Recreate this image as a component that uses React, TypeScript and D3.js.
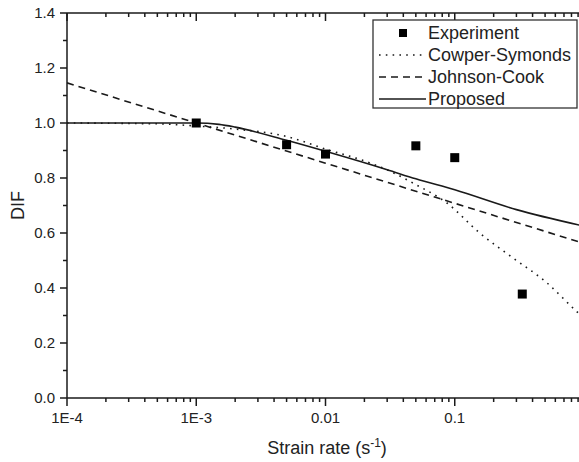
import React from "react";
import * as d3 from "d3";

const expX = [0.001, 0.005, 0.01, 0.05, 0.1, 0.333];
const expY = [1.0, 0.921, 0.887, 0.917, 0.874, 0.378];

const csX = [0.0001, 0.0005, 0.001, 0.002, 0.005, 0.01, 0.02, 0.0315, 0.05, 0.0865, 0.156, 0.281, 0.513, 0.875, 1];
const csY = [1.0, 0.997, 0.989, 0.978, 0.951, 0.905, 0.862, 0.825, 0.776, 0.71, 0.6, 0.51, 0.42, 0.315, 0.29];

const jcX = [0.0001, 0.001, 0.01, 0.1, 1];
const jcY = [1.146, 1.0, 0.854, 0.708, 0.562];

const prX = [0.0001, 0.0005, 0.001, 0.0015, 0.002, 0.005, 0.01, 0.03, 0.05, 0.1, 0.3, 1];
const prY = [1.0, 1.0, 1.0, 0.995, 0.985, 0.937, 0.897, 0.83, 0.797, 0.757, 0.685, 0.625];

const yTicks = [0, 0.2, 0.4, 0.6, 0.8, 1.0, 1.2, 1.4];
const xTickVals = [0.0001, 0.001, 0.01, 0.1];
const xTickLabels = ["1E-4", "1E-3", "0.01", "0.1"];
const legendLabels = ["Experiment", "Cowper-Symonds", "Johnson-Cook", "Proposed"];

const W = 579, H = 462;
const left = 67, right = 584, top = 13, bottom = 398;
const FONT = "Arial, 'Liberation Sans', sans-serif";

export default function App() {
  const x = d3.scaleLog().domain([1e-4, 1]).range([left, right]);
  const y = d3.scaleLinear().domain([0, 1.4]).range([bottom, top]);
  const line = (xs: number[], ys: number[]) =>
    d3.line<number>().x((_, i) => x(xs[i])).y((_, i) => y(ys[i])).curve(d3.curveMonotoneX)(xs) || "";

  const minorX: number[] = [];
  for (let e = -4; e < 0; e++) for (let m = 2; m <= 9; m++) minorX.push(m * Math.pow(10, e));
  const minorY = d3.range(0.1, 1.4, 0.2);
  const col = "#1a1a1a";

  return (
    <svg width={W} height={H} style={{ position: "absolute", left: 0, top: 0, background: "#fff" }}>
      <defs>
        <clipPath id="plot"><rect x={left} y={top} width={right - left} height={bottom - top} /></clipPath>
      </defs>
      <g clipPath="url(#plot)" fill="none" stroke={col}>
        <path d={line(csX, csY)} strokeWidth={1.6} strokeDasharray="1.6,5.2" />
        <path d={line(jcX, jcY)} strokeWidth={1.6} strokeDasharray="7,5" />
        <path d={line(prX, prY)} strokeWidth={1.6} />
      </g>
      {expX.map((v, i) => (
        <rect key={i} x={x(v) - 4.5} y={y(expY[i]) - 4.5} width={9} height={9} fill="#000" />
      ))}
      <g stroke={col} strokeWidth={1.5}>
        <line x1={left} x2={left} y1={top} y2={bottom} />
        <line x1={left} x2={right} y1={bottom} y2={bottom} />
        <line x1={left} x2={right} y1={top} y2={top} />
        <line x1={right} x2={right} y1={top} y2={bottom} />
        {yTicks.map((t) => <line key={"y" + t} x1={left - 7} x2={left} y1={y(t)} y2={y(t)} />)}
        {minorY.map((t) => <line key={"ym" + t} x1={left - 4} x2={left} y1={y(t)} y2={y(t)} />)}
        {xTickVals.map((t) => <line key={"x" + t} x1={x(t)} x2={x(t)} y1={bottom} y2={bottom + 8} />)}
        {minorX.map((t) => <line key={"xm" + t} x1={x(t)} x2={x(t)} y1={bottom} y2={bottom + 4} />)}
        {xTickVals.map((t) => <line key={"xt" + t} x1={x(t)} x2={x(t)} y1={top} y2={top + 8} />)}
        {minorX.map((t) => <line key={"xtm" + t} x1={x(t)} x2={x(t)} y1={top} y2={top + 4} />)}
      </g>
      <g fontFamily={FONT} fontSize={15} fill="#222">
        {yTicks.map((t) => (
          <text key={"yl" + t} x={left - 12} y={y(t)} dy="0.35em" textAnchor="end">{t.toFixed(1)}</text>
        ))}
        {xTickVals.map((t, i) => (
          <text key={"xl" + t} x={x(t)} y={bottom + 25} textAnchor="middle">{xTickLabels[i]}</text>
        ))}
      </g>
      <text x={327} y={454} textAnchor="middle" fontFamily={FONT} fontSize={18} fill="#222">
        Strain rate (s<tspan dy={-7} fontSize={12}>-1</tspan><tspan dy={7}>)</tspan>
      </text>
      <text transform={`translate(24,${(top + bottom) / 2}) rotate(-90)`} textAnchor="middle" fontFamily={FONT} fontSize={18} fill="#222">DIF</text>
      <g>
        <rect x={373} y={20} width={204} height={88} fill="#fff" stroke="#333" strokeWidth={1.3} />
        {legendLabels.map((lab, i) => {
          const cy = 33 + i * 22;
          return (
            <g key={lab}>
              {i === 0 && <rect x={399} y={cy - 4} width={8} height={8} fill="#000" />}
              {i === 1 && <line x1={379} x2={426} y1={cy} y2={cy} stroke={col} strokeWidth={1.6} strokeDasharray="1.6,5.2" />}
              {i === 2 && <line x1={379} x2={426} y1={cy} y2={cy} stroke={col} strokeWidth={1.6} strokeDasharray="7,5" />}
              {i === 3 && <line x1={379} x2={426} y1={cy} y2={cy} stroke={col} strokeWidth={1.6} />}
              <text x={428} y={cy} dy="0.35em" fontFamily={FONT} fontSize={18} fill="#222">{lab}</text>
            </g>
          );
        })}
      </g>
    </svg>
  );
}
